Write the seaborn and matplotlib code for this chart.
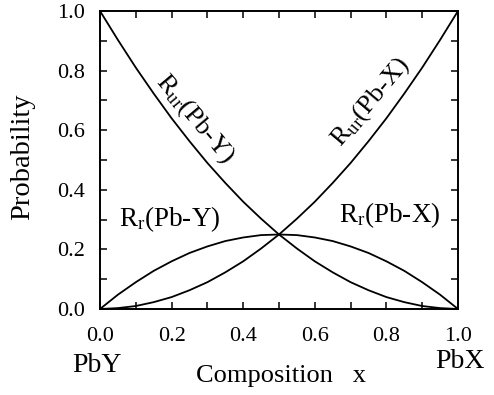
import matplotlib
matplotlib.use("Agg")
import matplotlib.pyplot as plt
import seaborn as sns
from matplotlib.ticker import MultipleLocator, FormatStrFormatter

# composition x and probabilities
comp_x = [0.0, 0.05, 0.1, 0.15, 0.2, 0.25, 0.3, 0.35, 0.4, 0.45, 0.5,
          0.55, 0.6, 0.65, 0.7, 0.75, 0.8, 0.85, 0.9, 0.95, 1.0]
r_ur_pby = [1.0, 0.903, 0.81, 0.723, 0.64, 0.563, 0.49, 0.423, 0.36, 0.303, 0.25,
            0.203, 0.16, 0.123, 0.09, 0.063, 0.04, 0.023, 0.01, 0.003, 0.0]
r_ur_pbx = [0.0, 0.003, 0.01, 0.023, 0.04, 0.063, 0.09, 0.123, 0.16, 0.203, 0.25,
            0.303, 0.36, 0.423, 0.49, 0.563, 0.64, 0.723, 0.81, 0.903, 1.0]
r_r = [0.0, 0.048, 0.09, 0.128, 0.16, 0.188, 0.21, 0.228, 0.24, 0.248, 0.25,
       0.248, 0.24, 0.228, 0.21, 0.188, 0.16, 0.128, 0.09, 0.048, 0.0]

sns.set_theme(style="ticks")
plt.rcParams['font.family'] = ['Liberation Serif', 'DejaVu Serif']
plt.rcParams['mathtext.fontset'] = 'custom'
plt.rcParams['mathtext.rm'] = 'Liberation Serif'
plt.rcParams['mathtext.it'] = 'Liberation Serif:italic'
plt.rcParams['text.color'] = 'black'
plt.rcParams['xtick.color'] = 'black'
plt.rcParams['ytick.color'] = 'black'

fig = plt.figure(figsize=(4.94, 3.95), dpi=100)
ax = fig.add_axes([100 / 494, 1 - 309 / 395, 358 / 494, 298 / 395])

for ys in (r_ur_pby, r_ur_pbx, r_r):
    sns.lineplot(x=comp_x, y=ys, color='black', linewidth=1.3, ax=ax)

ax.set_xlim(0, 1)
ax.set_ylim(0, 1)
ax.xaxis.set_major_locator(MultipleLocator(0.2))
ax.xaxis.set_minor_locator(MultipleLocator(0.1))
ax.yaxis.set_major_locator(MultipleLocator(0.2))
ax.yaxis.set_minor_locator(MultipleLocator(0.1))
ax.xaxis.set_major_formatter(FormatStrFormatter('%.1f'))
ax.yaxis.set_major_formatter(FormatStrFormatter('%.1f'))
ax.tick_params(which='both', direction='in', top=True, right=True,
               length=5, width=1.1)
ax.tick_params(axis='x', which='major', pad=13, labelsize=16)
ax.tick_params(axis='y', which='major', pad=11, labelsize=16)
for s in ax.spines.values():
    s.set_linewidth(1.4)
    s.set_color('black')

fig.text(23 / 494, 1 - 157 / 395, 'Probability', rotation=90, ha='center', va='center', fontsize=20.5)
fig.text(281 / 494, 1 - 376 / 395, 'Composition   x', ha='center', va='center', fontsize=19)
fig.text(97 / 494, 1 - 365 / 395, 'PbY', ha='center', va='center', fontsize=20)
fig.text(460 / 494, 1 - 362 / 395, 'PbX', ha='center', va='center', fontsize=20)

ax.text(0.196, 0.30, r'R$_{\rm r}$(Pb-Y)', ha='center', va='center', fontsize=19.5)
ax.text(0.81, 0.315, r'R$_{\rm r}$(Pb-X)', ha='center', va='center', fontsize=19.5)
ax.text(0.265, 0.64, r'R$_{\rm ur}$(Pb-Y)', ha='center', va='center', fontsize=19, rotation=-50)
ax.text(0.754, 0.695, r'R$_{\rm ur}$(Pb-X)', ha='center', va='center', fontsize=19, rotation=50)

fig.savefig('out.png', dpi=100)
